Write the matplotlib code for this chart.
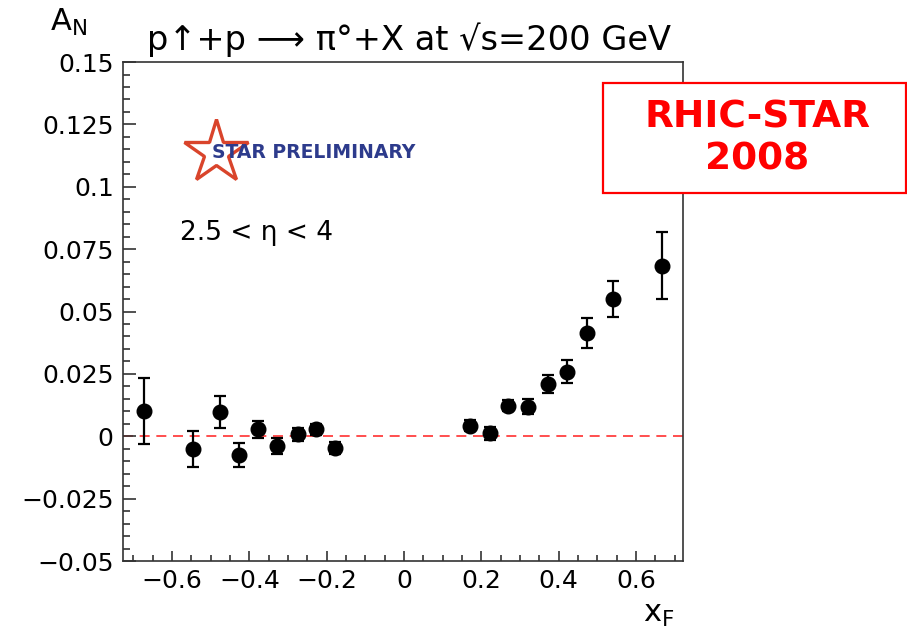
import matplotlib
matplotlib.use("Agg")
import matplotlib.pyplot as plt
from matplotlib.patches import Rectangle
from matplotlib.ticker import MultipleLocator, FixedLocator

# STAR pi0 A_N vs x_F
xf_neg = [-0.672, -0.545, -0.477, -0.428, -0.378, -0.329, -0.275, -0.228, -0.178]
an_neg = [0.0100, -0.0050, 0.0096, -0.0074, 0.0029, -0.0039, 0.0009, 0.0029, -0.0048]
err_neg = [0.0132, 0.0072, 0.0064, 0.0048, 0.0034, 0.0031, 0.0026, 0.0022, 0.0025]

xf_pos = [0.171, 0.223, 0.269, 0.321, 0.372, 0.422, 0.473, 0.540, 0.668]
an_pos = [0.0042, 0.0012, 0.0123, 0.0119, 0.0210, 0.0259, 0.0415, 0.0549, 0.0684]
err_pos = [0.0022, 0.0025, 0.0023, 0.0031, 0.0037, 0.0047, 0.0061, 0.0072, 0.0135]

y_ticks = [-0.05, -0.025, 0, 0.025, 0.05, 0.075, 0.1, 0.125, 0.15]
y_labels = ["\u22120.05", "\u22120.025", "0", "0.025", "0.05", "0.075", "0.1", "0.125", "0.15"]
x_ticks = [-0.6, -0.4, -0.2, 0, 0.2, 0.4, 0.6]
x_labels = ["\u22120.6", "\u22120.4", "\u22120.2", "0", "0.2", "0.4", "0.6"]

plt.rcParams['font.family'] = ['DejaVu Sans']

fig = plt.figure(figsize=(9.07, 6.33), dpi=100)
ax = fig.add_axes([0.136, 0.1137, 0.6167, 0.7883])

frame_col = "#333333"
for s in ax.spines.values():
    s.set_linewidth(1.2)
    s.set_color(frame_col)

ax.set_xlim(-0.726, 0.721)
ax.set_ylim(-0.05, 0.15)

ax.axhline(0, color="#ff3030", lw=1.2, dashes=(6, 4), zorder=1)

for xs, ys, es in [(xf_neg, an_neg, err_neg), (xf_pos, an_pos, err_pos)]:
    ax.errorbar(xs, ys, yerr=es, fmt="o", color="black", ms=10.5,
                elinewidth=1.6, capsize=4.5, capthick=1.6, zorder=3)

ax.yaxis.set_major_locator(FixedLocator(y_ticks))
ax.set_yticklabels(y_labels)
ax.yaxis.set_minor_locator(MultipleLocator(0.005))
ax.xaxis.set_major_locator(FixedLocator(x_ticks))
ax.set_xticklabels(x_labels)
ax.xaxis.set_minor_locator(MultipleLocator(0.05))

ax.tick_params(which="both", direction="in", top=False, right=False,
               color=frame_col, width=1.2, labelsize=18)
ax.tick_params(axis="y", which="major", length=9.5, pad=7)
ax.tick_params(axis="y", which="minor", length=5)
ax.tick_params(axis="x", which="major", length=7.5, pad=6)
ax.tick_params(axis="x", which="minor", length=4)

# title and axis labels, ROOT style
fig.text(147 / 907, 1 - 50 / 633, "p\u2191+p \u27f6 \u03c0\u00b0+X at \u221as=200 GeV",
         fontsize=24.2, va="baseline", ha="left")
fig.text(50 / 907, 1 - 31 / 633, r"A$_\mathregular{N}$", fontsize=22,
         va="baseline", ha="left")
fig.text(643 / 907, 1 - 622 / 633, r"x$_\mathregular{F}$", fontsize=22,
         va="baseline", ha="left")

fig.text(180 / 907, 1 - 240 / 633, "2.5 < \u03b7 < 4", fontsize=19,
         va="baseline", ha="left")

# STAR preliminary logo
ax.plot([0.1657], [0.82], marker="*", ms=48, mfc="none", mec="#d9442b",
        mew=2.4, transform=ax.transAxes, clip_on=False, zorder=4)
fig.text(212 / 907, 1 - 153 / 633, "STAR PRELIMINARY", fontsize=13.5,
         fontweight="bold", color="#2d3b8c", va="center", ha="left", zorder=5)

# RHIC-STAR 2008 box on top of the frame
box = Rectangle((602.7 / 907, 1 - 192.7 / 633), (906 - 602.7) / 907, (192.7 - 83.3) / 633,
                transform=fig.transFigure, facecolor="white", edgecolor="red",
                lw=1.6, zorder=10)
fig.patches.append(box)
fig.text(757 / 907, 1 - 118 / 633, "RHIC-STAR", fontsize=27, fontweight="bold",
         color="red", ha="center", va="center", zorder=11)
fig.text(757 / 907, 1 - 160 / 633, "2008", fontsize=27, fontweight="bold",
         color="red", ha="center", va="center", zorder=11)

fig.savefig("out.png", dpi=100)
